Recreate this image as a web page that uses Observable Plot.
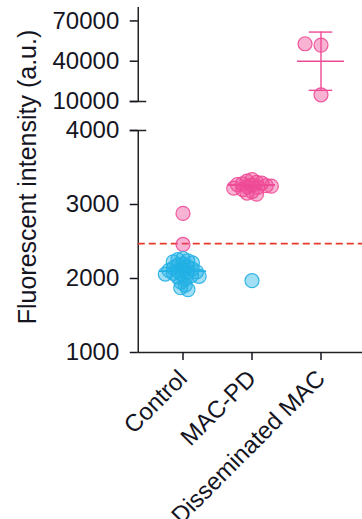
<!DOCTYPE html>
<html><head><meta charset="utf-8">
<script src="https://cdn.jsdelivr.net/npm/d3@7"></script>
<script src="https://cdn.jsdelivr.net/npm/@observablehq/plot@0.6"></script>
<style>body{margin:0;background:#fff}</style>
</head><body><div id="chart"></div>
<script>
const groups = ["Control", "MAC-PD", "Disseminated MAC"];
const controlNeg = [2270, 2255, 2240, 2225, 2210, 2195, 2180, 2160, 2145, 2130, 2120, 2110, 2100, 2090, 2080, 2070, 2060, 2050, 2040, 2030, 2020, 1990, 1950, 1910, 1875, 1850];
const controlPos = [2880, 2460];
const macpdPos = [3335, 3315, 3300, 3290, 3280, 3270, 3262, 3255, 3248, 3240, 3232, 3220, 3200, 3175, 3155, 3140];
const macpdNeg = [1970];
const dissemPos = [52000, 53000, 15000];
const groupMeans = [2100, 3265, 40000];
const dissemSpread = [18300, 61700];
const cutoff = 2470;
const yTicks = [1000, 2000, 3000, 4000, 10000, 40000, 70000];
const breakTicks = [4000, 10000];
const axisSegments = [{y1: 1000, y2: 4000}, {y1: 10000, y2: 80000}];
const yLabel = "Fluorescent intensity (a.u.)";

const pink = "#ee4a96", blue = "#22b0e4", red = "#e8382a";

const swarm = [
  ...controlPos.map(v => ({group: "Control", value: v, status: "pos"})),
  ...controlNeg.map(v => ({group: "Control", value: v, status: "neg"})),
  ...macpdNeg.map(v => ({group: "MAC-PD", value: v, status: "neg"})),
  ...macpdPos.map(v => ({group: "MAC-PD", value: v, status: "pos"}))
];
const dissem = dissemPos.map(v => ({group: "Disseminated MAC", value: v, status: "pos"}));
const means = groups.map((g, i) => ({group: g, mean: groupMeans[i], color: i === 0 ? blue : pink}));

const font = "Liberation Sans, Arial, Helvetica, sans-serif";
const dotOpts = {fx: "group", y: "value", r: 7, fill: "status", stroke: "status", fillOpacity: 0.42, strokeOpacity: 0.9, strokeWidth: 1.2};

const chart = Plot.plot({
  width: 362, height: 519,
  marginLeft: 147.25, marginRight: 6.25, marginTop: 7, marginBottom: 167,
  style: {fontFamily: font, color: "#15151f", background: "#fff"},
  fx: {domain: groups, padding: 0},
  y: {type: "linear", domain: [1000, 4000, 10000, 80000], range: [352, 130, 101, 7]},
  color: {domain: ["pos", "neg"], range: [pink, blue]},
  marks: [
    // axis lines
    Plot.ruleX(axisSegments, {x: null, fx: axisSegments.map(() => "Control"), y1: "y1", y2: "y2", dx: -44.75, stroke: "#222", strokeWidth: 1.5}),
    Plot.ruleY([1000], {fx: ["Control"], insetLeft: -10.25, insetRight: -145.25, stroke: "#222", strokeWidth: 1.5}),
    Plot.ruleY(breakTicks, {fx: breakTicks.map(() => "Control"), insetRight: 52.5, dx: -18.25, stroke: "#222", strokeWidth: 1.5}),
    Plot.axisY({ticks: yTicks, tickFormat: d3.format("d"), tickSize: 8, tickPadding: 11, dx: -10.25, fontSize: 24, label: null, strokeWidth: 1.5}),
    Plot.axisFx({anchor: "bottom", tickSize: 8, tickPadding: 14, tickRotate: -45, fontSize: 24, label: null, strokeWidth: 1.5}),
    Plot.text([yLabel], {fx: ["Control"], text: d => d, frameAnchor: "left", rotate: -90, dx: -120.25, dy: -3, fontSize: 25, textAnchor: "middle", lineAnchor: "middle", fill: "#15151f"}),
    // cutoff
    Plot.ruleY([cutoff], {fx: ["Control"], insetLeft: -10.25, insetRight: -145.25, stroke: red, strokeWidth: 1.7, strokeDasharray: "7,4"}),
    // means (under the swarm)
    Plot.tickY(means, {fx: "group", y: "mean", stroke: "color", insetLeft: 11, insetRight: 11, strokeWidth: 1.6}),
    // dots
    Plot.dot(swarm, Plot.dodgeX({anchor: "middle", r: 2.6, padding: 0}, dotOpts)),
    Plot.dot(dissem, Plot.dodgeX({anchor: "middle", r: 8, padding: 0}, dotOpts)),
    // MAC-PD mean drawn over its dots, spread for disseminated
    Plot.tickY(means.slice(1, 2), {fx: "group", y: "mean", stroke: "color", insetLeft: 11, insetRight: 11, strokeWidth: 1.6}),
    Plot.ruleX([{group: "Disseminated MAC", y1: dissemSpread[0], y2: dissemSpread[1]}], {x: null, fx: "group", y1: "y1", y2: "y2", stroke: pink, strokeWidth: 1.4}),
    Plot.tickY(dissemSpread.map(v => ({group: "Disseminated MAC", v})), {fx: "group", y: "v", stroke: pink, insetLeft: 22.75, insetRight: 22.75, strokeWidth: 1.4})
  ]
});
document.getElementById("chart").appendChild(chart);
</script>
</body></html>
